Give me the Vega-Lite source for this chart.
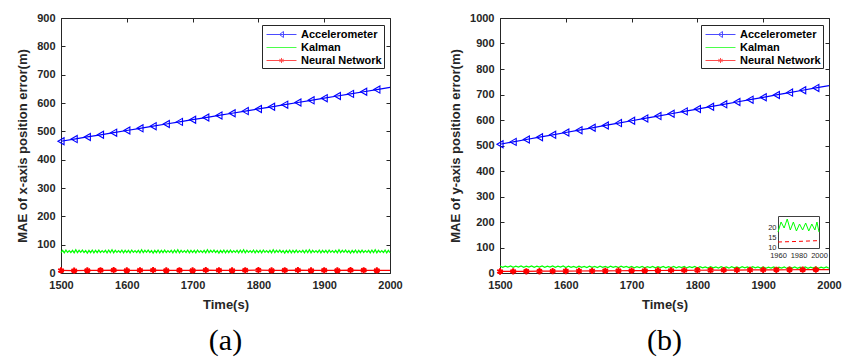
{
"$schema": "https://vega.github.io/schema/vega-lite/v6.json",
"background": "white",
"autosize": {"type": "pad"},
"padding": {"left": 16, "top": 11, "right": 0, "bottom": 0},
"datasets": {
"a": [
{"s":"Accelerometer","t":1500,"v":465,"m":1},{"s":"Accelerometer","t":1520,"v":472.6,"m":1},{"s":"Accelerometer","t":1540,"v":480.2,"m":1},{"s":"Accelerometer","t":1560,"v":487.8,"m":1},{"s":"Accelerometer","t":1580,"v":495.4,"m":1},{"s":"Accelerometer","t":1600,"v":503,"m":1},{"s":"Accelerometer","t":1620,"v":510.6,"m":1},{"s":"Accelerometer","t":1640,"v":518.2,"m":1},{"s":"Accelerometer","t":1660,"v":525.8,"m":1},{"s":"Accelerometer","t":1680,"v":533.4,"m":1},{"s":"Accelerometer","t":1700,"v":541,"m":1},{"s":"Accelerometer","t":1720,"v":548.6,"m":1},{"s":"Accelerometer","t":1740,"v":556.2,"m":1},{"s":"Accelerometer","t":1760,"v":563.8,"m":1},{"s":"Accelerometer","t":1780,"v":571.4,"m":1},{"s":"Accelerometer","t":1800,"v":579,"m":1},{"s":"Accelerometer","t":1820,"v":586.6,"m":1},{"s":"Accelerometer","t":1840,"v":594.2,"m":1},{"s":"Accelerometer","t":1860,"v":601.8,"m":1},{"s":"Accelerometer","t":1880,"v":609.4,"m":1},{"s":"Accelerometer","t":1900,"v":617,"m":1},{"s":"Accelerometer","t":1920,"v":624.6,"m":1},{"s":"Accelerometer","t":1940,"v":632.2,"m":1},{"s":"Accelerometer","t":1960,"v":639.8,"m":1},{"s":"Accelerometer","t":1980,"v":647.4,"m":1},{"s":"Accelerometer","t":2000,"v":655,"m":0},
{"s":"Neural Network","t":1500,"v":9,"m":1},{"s":"Neural Network","t":1520,"v":8.5,"m":1},{"s":"Neural Network","t":1540,"v":9,"m":1},{"s":"Neural Network","t":1560,"v":9.5,"m":1},{"s":"Neural Network","t":1580,"v":10,"m":1},{"s":"Neural Network","t":1600,"v":9,"m":1},{"s":"Neural Network","t":1620,"v":9.5,"m":1},{"s":"Neural Network","t":1640,"v":10,"m":1},{"s":"Neural Network","t":1660,"v":9,"m":1},{"s":"Neural Network","t":1680,"v":9.5,"m":1},{"s":"Neural Network","t":1700,"v":9,"m":1},{"s":"Neural Network","t":1720,"v":10,"m":1},{"s":"Neural Network","t":1740,"v":9.5,"m":1},{"s":"Neural Network","t":1760,"v":9,"m":1},{"s":"Neural Network","t":1780,"v":9.5,"m":1},{"s":"Neural Network","t":1800,"v":10,"m":1},{"s":"Neural Network","t":1820,"v":9,"m":1},{"s":"Neural Network","t":1840,"v":9.5,"m":1},{"s":"Neural Network","t":1860,"v":10,"m":1},{"s":"Neural Network","t":1880,"v":9,"m":1},{"s":"Neural Network","t":1900,"v":9.5,"m":1},{"s":"Neural Network","t":1920,"v":9,"m":1},{"s":"Neural Network","t":1940,"v":10,"m":1},{"s":"Neural Network","t":1960,"v":9.5,"m":1},{"s":"Neural Network","t":1980,"v":9,"m":1},{"s":"Neural Network","t":2000,"v":9.5,"m":0},
{"s":"Kalman","t":1500,"v":72},{"s":"Kalman","t":1502.5,"v":80},{"s":"Kalman","t":1505,"v":71},{"s":"Kalman","t":1507.5,"v":81},{"s":"Kalman","t":1510,"v":73},{"s":"Kalman","t":1512.5,"v":79},{"s":"Kalman","t":1515,"v":72},{"s":"Kalman","t":1517.5,"v":80},{"s":"Kalman","t":1520,"v":71},{"s":"Kalman","t":1522.5,"v":82},{"s":"Kalman","t":1525,"v":72},{"s":"Kalman","t":1527.5,"v":80},{"s":"Kalman","t":1530,"v":73},{"s":"Kalman","t":1532.5,"v":81},{"s":"Kalman","t":1535,"v":72},{"s":"Kalman","t":1537.5,"v":79},{"s":"Kalman","t":1540,"v":70},{"s":"Kalman","t":1542.5,"v":80},{"s":"Kalman","t":1545,"v":72},{"s":"Kalman","t":1547.5,"v":81},
{"s":"Kalman","t":1550,"v":71},{"s":"Kalman","t":1552.5,"v":80},{"s":"Kalman","t":1555,"v":72},{"s":"Kalman","t":1557.5,"v":81},{"s":"Kalman","t":1560,"v":72},{"s":"Kalman","t":1562.5,"v":79},{"s":"Kalman","t":1565,"v":73},{"s":"Kalman","t":1567.5,"v":80},{"s":"Kalman","t":1570,"v":71},{"s":"Kalman","t":1572.5,"v":81},{"s":"Kalman","t":1575,"v":72},{"s":"Kalman","t":1577.5,"v":82},{"s":"Kalman","t":1580,"v":71},{"s":"Kalman","t":1582.5,"v":80},{"s":"Kalman","t":1585,"v":73},{"s":"Kalman","t":1587.5,"v":79},{"s":"Kalman","t":1590,"v":72},{"s":"Kalman","t":1592.5,"v":81},{"s":"Kalman","t":1595,"v":71},{"s":"Kalman","t":1597.5,"v":80},
{"s":"Kalman","t":1600,"v":72},{"s":"Kalman","t":1602.5,"v":80},{"s":"Kalman","t":1605,"v":71},{"s":"Kalman","t":1607.5,"v":81},{"s":"Kalman","t":1610,"v":73},{"s":"Kalman","t":1612.5,"v":79},{"s":"Kalman","t":1615,"v":72},{"s":"Kalman","t":1617.5,"v":80},{"s":"Kalman","t":1620,"v":71},{"s":"Kalman","t":1622.5,"v":82},{"s":"Kalman","t":1625,"v":72},{"s":"Kalman","t":1627.5,"v":80},{"s":"Kalman","t":1630,"v":73},{"s":"Kalman","t":1632.5,"v":81},{"s":"Kalman","t":1635,"v":72},{"s":"Kalman","t":1637.5,"v":79},{"s":"Kalman","t":1640,"v":70},{"s":"Kalman","t":1642.5,"v":80},{"s":"Kalman","t":1645,"v":72},{"s":"Kalman","t":1647.5,"v":81},
{"s":"Kalman","t":1650,"v":71},{"s":"Kalman","t":1652.5,"v":80},{"s":"Kalman","t":1655,"v":72},{"s":"Kalman","t":1657.5,"v":81},{"s":"Kalman","t":1660,"v":72},{"s":"Kalman","t":1662.5,"v":79},{"s":"Kalman","t":1665,"v":73},{"s":"Kalman","t":1667.5,"v":80},{"s":"Kalman","t":1670,"v":71},{"s":"Kalman","t":1672.5,"v":81},{"s":"Kalman","t":1675,"v":72},{"s":"Kalman","t":1677.5,"v":82},{"s":"Kalman","t":1680,"v":71},{"s":"Kalman","t":1682.5,"v":80},{"s":"Kalman","t":1685,"v":73},{"s":"Kalman","t":1687.5,"v":79},{"s":"Kalman","t":1690,"v":72},{"s":"Kalman","t":1692.5,"v":81},{"s":"Kalman","t":1695,"v":71},{"s":"Kalman","t":1697.5,"v":80},
{"s":"Kalman","t":1700,"v":72},{"s":"Kalman","t":1702.5,"v":80},{"s":"Kalman","t":1705,"v":71},{"s":"Kalman","t":1707.5,"v":81},{"s":"Kalman","t":1710,"v":73},{"s":"Kalman","t":1712.5,"v":79},{"s":"Kalman","t":1715,"v":72},{"s":"Kalman","t":1717.5,"v":80},{"s":"Kalman","t":1720,"v":71},{"s":"Kalman","t":1722.5,"v":82},{"s":"Kalman","t":1725,"v":72},{"s":"Kalman","t":1727.5,"v":80},{"s":"Kalman","t":1730,"v":73},{"s":"Kalman","t":1732.5,"v":81},{"s":"Kalman","t":1735,"v":72},{"s":"Kalman","t":1737.5,"v":79},{"s":"Kalman","t":1740,"v":70},{"s":"Kalman","t":1742.5,"v":80},{"s":"Kalman","t":1745,"v":72},{"s":"Kalman","t":1747.5,"v":81},
{"s":"Kalman","t":1750,"v":71},{"s":"Kalman","t":1752.5,"v":80},{"s":"Kalman","t":1755,"v":72},{"s":"Kalman","t":1757.5,"v":81},{"s":"Kalman","t":1760,"v":72},{"s":"Kalman","t":1762.5,"v":79},{"s":"Kalman","t":1765,"v":73},{"s":"Kalman","t":1767.5,"v":80},{"s":"Kalman","t":1770,"v":71},{"s":"Kalman","t":1772.5,"v":81},{"s":"Kalman","t":1775,"v":72},{"s":"Kalman","t":1777.5,"v":82},{"s":"Kalman","t":1780,"v":71},{"s":"Kalman","t":1782.5,"v":80},{"s":"Kalman","t":1785,"v":73},{"s":"Kalman","t":1787.5,"v":79},{"s":"Kalman","t":1790,"v":72},{"s":"Kalman","t":1792.5,"v":81},{"s":"Kalman","t":1795,"v":71},{"s":"Kalman","t":1797.5,"v":80},
{"s":"Kalman","t":1800,"v":72},{"s":"Kalman","t":1802.5,"v":80},{"s":"Kalman","t":1805,"v":71},{"s":"Kalman","t":1807.5,"v":81},{"s":"Kalman","t":1810,"v":73},{"s":"Kalman","t":1812.5,"v":79},{"s":"Kalman","t":1815,"v":72},{"s":"Kalman","t":1817.5,"v":80},{"s":"Kalman","t":1820,"v":71},{"s":"Kalman","t":1822.5,"v":82},{"s":"Kalman","t":1825,"v":72},{"s":"Kalman","t":1827.5,"v":80},{"s":"Kalman","t":1830,"v":73},{"s":"Kalman","t":1832.5,"v":81},{"s":"Kalman","t":1835,"v":72},{"s":"Kalman","t":1837.5,"v":79},{"s":"Kalman","t":1840,"v":70},{"s":"Kalman","t":1842.5,"v":80},{"s":"Kalman","t":1845,"v":72},{"s":"Kalman","t":1847.5,"v":81},
{"s":"Kalman","t":1850,"v":71},{"s":"Kalman","t":1852.5,"v":80},{"s":"Kalman","t":1855,"v":72},{"s":"Kalman","t":1857.5,"v":81},{"s":"Kalman","t":1860,"v":72},{"s":"Kalman","t":1862.5,"v":79},{"s":"Kalman","t":1865,"v":73},{"s":"Kalman","t":1867.5,"v":80},{"s":"Kalman","t":1870,"v":71},{"s":"Kalman","t":1872.5,"v":81},{"s":"Kalman","t":1875,"v":72},{"s":"Kalman","t":1877.5,"v":82},{"s":"Kalman","t":1880,"v":71},{"s":"Kalman","t":1882.5,"v":80},{"s":"Kalman","t":1885,"v":73},{"s":"Kalman","t":1887.5,"v":79},{"s":"Kalman","t":1890,"v":72},{"s":"Kalman","t":1892.5,"v":81},{"s":"Kalman","t":1895,"v":71},{"s":"Kalman","t":1897.5,"v":80},
{"s":"Kalman","t":1900,"v":72},{"s":"Kalman","t":1902.5,"v":80},{"s":"Kalman","t":1905,"v":71},{"s":"Kalman","t":1907.5,"v":81},{"s":"Kalman","t":1910,"v":73},{"s":"Kalman","t":1912.5,"v":79},{"s":"Kalman","t":1915,"v":72},{"s":"Kalman","t":1917.5,"v":80},{"s":"Kalman","t":1920,"v":71},{"s":"Kalman","t":1922.5,"v":82},{"s":"Kalman","t":1925,"v":72},{"s":"Kalman","t":1927.5,"v":80},{"s":"Kalman","t":1930,"v":73},{"s":"Kalman","t":1932.5,"v":81},{"s":"Kalman","t":1935,"v":72},{"s":"Kalman","t":1937.5,"v":79},{"s":"Kalman","t":1940,"v":70},{"s":"Kalman","t":1942.5,"v":80},{"s":"Kalman","t":1945,"v":72},{"s":"Kalman","t":1947.5,"v":81},
{"s":"Kalman","t":1950,"v":71},{"s":"Kalman","t":1952.5,"v":80},{"s":"Kalman","t":1955,"v":72},{"s":"Kalman","t":1957.5,"v":81},{"s":"Kalman","t":1960,"v":72},{"s":"Kalman","t":1962.5,"v":79},{"s":"Kalman","t":1965,"v":73},{"s":"Kalman","t":1967.5,"v":80},{"s":"Kalman","t":1970,"v":71},{"s":"Kalman","t":1972.5,"v":81},{"s":"Kalman","t":1975,"v":72},{"s":"Kalman","t":1977.5,"v":82},{"s":"Kalman","t":1980,"v":71},{"s":"Kalman","t":1982.5,"v":80},{"s":"Kalman","t":1985,"v":73},{"s":"Kalman","t":1987.5,"v":79},{"s":"Kalman","t":1990,"v":72},{"s":"Kalman","t":1992.5,"v":81},{"s":"Kalman","t":1995,"v":71},{"s":"Kalman","t":1997.5,"v":80},{"s":"Kalman","t":2000,"v":72}
],
"b": [
{"s":"Accelerometer","t":1500,"v":505,"m":1},{"s":"Accelerometer","t":1520,"v":514.2,"m":1},{"s":"Accelerometer","t":1540,"v":523.4,"m":1},{"s":"Accelerometer","t":1560,"v":532.6,"m":1},{"s":"Accelerometer","t":1580,"v":541.8,"m":1},{"s":"Accelerometer","t":1600,"v":551,"m":1},{"s":"Accelerometer","t":1620,"v":560.2,"m":1},{"s":"Accelerometer","t":1640,"v":569.4,"m":1},{"s":"Accelerometer","t":1660,"v":578.6,"m":1},{"s":"Accelerometer","t":1680,"v":587.8,"m":1},{"s":"Accelerometer","t":1700,"v":597,"m":1},{"s":"Accelerometer","t":1720,"v":606.2,"m":1},{"s":"Accelerometer","t":1740,"v":615.4,"m":1},{"s":"Accelerometer","t":1760,"v":624.6,"m":1},{"s":"Accelerometer","t":1780,"v":633.8,"m":1},{"s":"Accelerometer","t":1800,"v":643,"m":1},{"s":"Accelerometer","t":1820,"v":652.2,"m":1},{"s":"Accelerometer","t":1840,"v":661.4,"m":1},{"s":"Accelerometer","t":1860,"v":670.6,"m":1},{"s":"Accelerometer","t":1880,"v":679.8,"m":1},{"s":"Accelerometer","t":1900,"v":689,"m":1},{"s":"Accelerometer","t":1920,"v":698.2,"m":1},{"s":"Accelerometer","t":1940,"v":707.4,"m":1},{"s":"Accelerometer","t":1960,"v":716.6,"m":1},{"s":"Accelerometer","t":1980,"v":725.8,"m":1},{"s":"Accelerometer","t":2000,"v":735,"m":0},
{"s":"Neural Network","t":1500,"v":6,"m":1},{"s":"Neural Network","t":1520,"v":6.4,"m":1},{"s":"Neural Network","t":1540,"v":6.6,"m":1},{"s":"Neural Network","t":1560,"v":7,"m":1},{"s":"Neural Network","t":1580,"v":7.3,"m":1},{"s":"Neural Network","t":1600,"v":7.6,"m":1},{"s":"Neural Network","t":1620,"v":7.9,"m":1},{"s":"Neural Network","t":1640,"v":8.2,"m":1},{"s":"Neural Network","t":1660,"v":8.6,"m":1},{"s":"Neural Network","t":1680,"v":8.9,"m":1},{"s":"Neural Network","t":1700,"v":9.2,"m":1},{"s":"Neural Network","t":1720,"v":9.5,"m":1},{"s":"Neural Network","t":1740,"v":9.8,"m":1},{"s":"Neural Network","t":1760,"v":10.1,"m":1},{"s":"Neural Network","t":1780,"v":10.4,"m":1},{"s":"Neural Network","t":1800,"v":10.8,"m":1},{"s":"Neural Network","t":1820,"v":11,"m":1},{"s":"Neural Network","t":1840,"v":11.3,"m":1},{"s":"Neural Network","t":1860,"v":11.6,"m":1},{"s":"Neural Network","t":1880,"v":11.9,"m":1},{"s":"Neural Network","t":1900,"v":12.2,"m":1},{"s":"Neural Network","t":1920,"v":12.5,"m":1},{"s":"Neural Network","t":1940,"v":12.7,"m":1},{"s":"Neural Network","t":1960,"v":13,"m":1},{"s":"Neural Network","t":1980,"v":13.3,"m":1},{"s":"Neural Network","t":2000,"v":13.6,"m":0},
{"s":"Kalman","t":1500,"v":27.5},{"s":"Kalman","t":1504,"v":22.5},{"s":"Kalman","t":1508,"v":27},{"s":"Kalman","t":1512,"v":23},{"s":"Kalman","t":1516,"v":28},{"s":"Kalman","t":1520,"v":22.5},{"s":"Kalman","t":1524,"v":27},{"s":"Kalman","t":1528,"v":23},{"s":"Kalman","t":1532,"v":27.5},{"s":"Kalman","t":1536,"v":22},{"s":"Kalman","t":1540,"v":27},{"s":"Kalman","t":1544,"v":23},{"s":"Kalman","t":1548,"v":28},{"s":"Kalman","t":1552,"v":22.5},{"s":"Kalman","t":1556,"v":27},{"s":"Kalman","t":1560,"v":23},{"s":"Kalman","t":1564,"v":27.5},{"s":"Kalman","t":1568,"v":22.5},{"s":"Kalman","t":1572,"v":27},{"s":"Kalman","t":1576,"v":23},{"s":"Kalman","t":1580,"v":28},{"s":"Kalman","t":1584,"v":22},{"s":"Kalman","t":1588,"v":27},{"s":"Kalman","t":1592,"v":23},{"s":"Kalman","t":1596,"v":27.5},
{"s":"Kalman","t":1600,"v":21.5},{"s":"Kalman","t":1604,"v":26.5},{"s":"Kalman","t":1608,"v":22},{"s":"Kalman","t":1612,"v":26},{"s":"Kalman","t":1616,"v":21.5},{"s":"Kalman","t":1620,"v":27},{"s":"Kalman","t":1624,"v":22},{"s":"Kalman","t":1628,"v":26},{"s":"Kalman","t":1632,"v":21.5},{"s":"Kalman","t":1636,"v":26.5},{"s":"Kalman","t":1640,"v":22},{"s":"Kalman","t":1644,"v":26},{"s":"Kalman","t":1648,"v":21},{"s":"Kalman","t":1652,"v":26.5},{"s":"Kalman","t":1656,"v":22},{"s":"Kalman","t":1660,"v":26},{"s":"Kalman","t":1664,"v":21.5},{"s":"Kalman","t":1668,"v":27},{"s":"Kalman","t":1672,"v":22},{"s":"Kalman","t":1676,"v":26},{"s":"Kalman","t":1680,"v":21.5},{"s":"Kalman","t":1684,"v":26.5},{"s":"Kalman","t":1688,"v":22},{"s":"Kalman","t":1692,"v":26},{"s":"Kalman","t":1696,"v":21.5},
{"s":"Kalman","t":1700,"v":25.5},{"s":"Kalman","t":1704,"v":20.5},{"s":"Kalman","t":1708,"v":25},{"s":"Kalman","t":1712,"v":21},{"s":"Kalman","t":1716,"v":26},{"s":"Kalman","t":1720,"v":20.5},{"s":"Kalman","t":1724,"v":25},{"s":"Kalman","t":1728,"v":21},{"s":"Kalman","t":1732,"v":25.5},{"s":"Kalman","t":1736,"v":20},{"s":"Kalman","t":1740,"v":25},{"s":"Kalman","t":1744,"v":21},{"s":"Kalman","t":1748,"v":26},{"s":"Kalman","t":1752,"v":20.5},{"s":"Kalman","t":1756,"v":25},{"s":"Kalman","t":1760,"v":21},{"s":"Kalman","t":1764,"v":25.5},{"s":"Kalman","t":1768,"v":20.5},{"s":"Kalman","t":1772,"v":25},{"s":"Kalman","t":1776,"v":21},{"s":"Kalman","t":1780,"v":26},{"s":"Kalman","t":1784,"v":20},{"s":"Kalman","t":1788,"v":25},{"s":"Kalman","t":1792,"v":21},{"s":"Kalman","t":1796,"v":25.5},
{"s":"Kalman","t":1800,"v":19.5},{"s":"Kalman","t":1804,"v":24.5},{"s":"Kalman","t":1808,"v":20},{"s":"Kalman","t":1812,"v":24},{"s":"Kalman","t":1816,"v":19.5},{"s":"Kalman","t":1820,"v":25},{"s":"Kalman","t":1824,"v":20},{"s":"Kalman","t":1828,"v":24},{"s":"Kalman","t":1832,"v":19.5},{"s":"Kalman","t":1836,"v":24.5},{"s":"Kalman","t":1840,"v":20},{"s":"Kalman","t":1844,"v":24},{"s":"Kalman","t":1848,"v":19},{"s":"Kalman","t":1852,"v":24.5},{"s":"Kalman","t":1856,"v":20},{"s":"Kalman","t":1860,"v":24},{"s":"Kalman","t":1864,"v":19.5},{"s":"Kalman","t":1868,"v":25},{"s":"Kalman","t":1872,"v":20},{"s":"Kalman","t":1876,"v":24},{"s":"Kalman","t":1880,"v":19.5},{"s":"Kalman","t":1884,"v":24.5},{"s":"Kalman","t":1888,"v":20},{"s":"Kalman","t":1892,"v":24},{"s":"Kalman","t":1896,"v":19.5},
{"s":"Kalman","t":1900,"v":23.5},{"s":"Kalman","t":1904,"v":18.5},{"s":"Kalman","t":1908,"v":23},{"s":"Kalman","t":1912,"v":19},{"s":"Kalman","t":1916,"v":24},{"s":"Kalman","t":1920,"v":18.5},{"s":"Kalman","t":1924,"v":23},{"s":"Kalman","t":1928,"v":19},{"s":"Kalman","t":1932,"v":23.5},{"s":"Kalman","t":1936,"v":18},{"s":"Kalman","t":1940,"v":23},{"s":"Kalman","t":1944,"v":19},{"s":"Kalman","t":1948,"v":24},{"s":"Kalman","t":1952,"v":18.5},{"s":"Kalman","t":1956,"v":23},{"s":"Kalman","t":1960,"v":19},{"s":"Kalman","t":1964,"v":23.5},{"s":"Kalman","t":1968,"v":18.5},{"s":"Kalman","t":1972,"v":23},{"s":"Kalman","t":1976,"v":19},{"s":"Kalman","t":1980,"v":24},{"s":"Kalman","t":1984,"v":18},{"s":"Kalman","t":1988,"v":23},{"s":"Kalman","t":1992,"v":19},{"s":"Kalman","t":1996,"v":23.5},{"s":"Kalman","t":2000,"v":18.5}
],
"ins": [
{"s":"Kalman","t":1960,"v":18},{"s":"Kalman","t":1963,"v":23},{"s":"Kalman","t":1966,"v":20},{"s":"Kalman","t":1969,"v":24.5},{"s":"Kalman","t":1972,"v":19},{"s":"Kalman","t":1975,"v":23},{"s":"Kalman","t":1978,"v":18.5},{"s":"Kalman","t":1981,"v":22},{"s":"Kalman","t":1984,"v":19},{"s":"Kalman","t":1987,"v":22.5},{"s":"Kalman","t":1990,"v":18.5},{"s":"Kalman","t":1993,"v":22},{"s":"Kalman","t":1996,"v":19},{"s":"Kalman","t":1998,"v":23},{"s":"Kalman","t":2000,"v":18},
{"s":"Neural Network","t":1960,"v":13},{"s":"Neural Network","t":1980,"v":13.3},{"s":"Neural Network","t":2000,"v":13.7}
]
},
"hconcat": [
{
"width": 329, "height": 255,
"data": {"name": "a"},
"title": {"text": "(a)", "orient": "bottom", "anchor": "middle", "font": "Liberation Serif", "fontSize": 30, "fontWeight": "normal", "color": "black", "offset": 15},
"layer": [
{"mark": {"type": "line", "strokeWidth": 1.2},
 "encoding": {
  "x": {"field": "t", "type": "quantitative", "scale": {"domain": [1500, 2000], "nice": false, "zero": false}, "axis": {"orient": "bottom", "values": [1500,1600,1700,1800,1900,2000], "format": "d", "title": "Time(s)", "titlePadding": 8}},
  "y": {"field": "v", "type": "quantitative", "scale": {"domain": [0, 900], "nice": false}, "axis": {"orient": "left", "values": [0,100,200,300,400,500,600,700,800,900], "format": "d", "title": "MAE of x-axis position error(m)", "titlePadding": 7}},
  "color": {"field": "s", "type": "nominal", "scale": {"domain": ["Accelerometer","Kalman","Neural Network"], "range": ["#0000ff","#00ff00","#ff0000"]},
   "legend": {"orient": "none", "legendX": 201, "legendY": 7, "title": null, "symbolSize": 196, "symbolStrokeWidth": 1, "labelOffset": 22, "padding": 2, "rowPadding": 0, "labelFont": "Liberation Sans", "labelFontWeight": "bold", "labelFontSize": 11, "labelColor": "black", "strokeColor": "#262626", "fillColor": "white"}}
 }},
{"transform": [{"filter": "datum.m === 1 && datum.s === 'Accelerometer'"}],
 "mark": {"type": "point", "filled": false, "size": 50, "strokeWidth": 1.1, "opacity": 1, "color": "#0000ff", "shape": "triangle-left"},
 "encoding": {
  "x": {"field": "t", "type": "quantitative", "axis": {"orient": "top", "values": [1500,1600,1700,1800,1900,2000], "labels": false, "title": null}},
  "y": {"field": "v", "type": "quantitative", "axis": {"orient": "right", "values": [0,100,200,300,400,500,600,700,800,900], "labels": false, "title": null}}
 }},
{"transform": [{"filter": "datum.m === 1 && datum.s === 'Neural Network'"}],
 "mark": {"type": "point", "filled": false, "size": 40, "strokeWidth": 2, "opacity": 1, "color": "#ff0000", "shape": "M0,-1V1M-0.87,-0.5L0.87,0.5M-0.87,0.5L0.87,-0.5"},
 "encoding": {
  "x": {"field": "t", "type": "quantitative", "axis": null},
  "y": {"field": "v", "type": "quantitative", "axis": null}
 }},
{"transform": [{"filter": "datum.m === 2"}],
 "mark": {"type": "point", "filled": false},
 "encoding": {
  "x": {"field": "t", "type": "quantitative", "axis": null},
  "y": {"field": "v", "type": "quantitative", "axis": null},
  "color": {"field": "s", "type": "nominal"},
  "shape": {"field": "s", "type": "nominal", "scale": {"domain": ["Accelerometer","Kalman","Neural Network"], "range": ["M-0.71,0H3.57M1.71,-0.43L1.14,0L1.71,0.43Z", "M-0.71,0H3.57", "M-0.71,0H3.57M1.43,-0.36V0.36M1.12,-0.18L1.74,0.18M1.12,0.18L1.74,-0.18"]},
   "legend": {"orient": "none", "legendX": 201, "legendY": 7, "title": null, "symbolSize": 196, "symbolStrokeWidth": 1, "labelOffset": 22, "padding": 2, "rowPadding": 0, "labelFont": "Liberation Sans", "labelFontWeight": "bold", "labelFontSize": 11, "labelColor": "black", "strokeColor": "#262626", "fillColor": "white"}}
 }}
],
"resolve": {"axis": {"x": "independent", "y": "independent"}}
},
{
"width": 329, "height": 255,
"title": {"text": "(b)", "orient": "bottom", "anchor": "middle", "font": "Liberation Serif", "fontSize": 30, "fontWeight": "normal", "color": "black", "offset": 15},
"layer": [
{
"data": {"name": "b"},
"layer": [
{"mark": {"type": "line", "strokeWidth": 1.2},
 "encoding": {
  "x": {"field": "t", "type": "quantitative", "scale": {"domain": [1500, 2000], "nice": false, "zero": false}, "axis": {"orient": "bottom", "values": [1500,1600,1700,1800,1900,2000], "format": "d", "title": "Time(s)", "titlePadding": 8}},
  "y": {"field": "v", "type": "quantitative", "scale": {"domain": [0, 1000], "nice": false}, "axis": {"orient": "left", "values": [0,100,200,300,400,500,600,700,800,900,1000], "format": "d", "title": "MAE of y-axis position error(m)", "titlePadding": 7}},
  "color": {"field": "s", "type": "nominal", "scale": {"domain": ["Accelerometer","Kalman","Neural Network"], "range": ["#0000ff","#00ff00","#ff0000"]},
   "legend": {"orient": "none", "legendX": 201, "legendY": 7, "title": null, "symbolSize": 196, "symbolStrokeWidth": 1, "labelOffset": 22, "padding": 2, "rowPadding": 0, "labelFont": "Liberation Sans", "labelFontWeight": "bold", "labelFontSize": 11, "labelColor": "black", "strokeColor": "#262626", "fillColor": "white"}}
 }},
{"transform": [{"filter": "datum.m === 1 && datum.s === 'Accelerometer'"}],
 "mark": {"type": "point", "filled": false, "size": 50, "strokeWidth": 1.1, "opacity": 1, "color": "#0000ff", "shape": "triangle-left"},
 "encoding": {
  "x": {"field": "t", "type": "quantitative", "axis": {"orient": "top", "values": [1500,1600,1700,1800,1900,2000], "labels": false, "title": null}},
  "y": {"field": "v", "type": "quantitative", "axis": {"orient": "right", "values": [0,100,200,300,400,500,600,700,800,900,1000], "labels": false, "title": null}}
 }},
{"transform": [{"filter": "datum.m === 1 && datum.s === 'Neural Network'"}],
 "mark": {"type": "point", "filled": false, "size": 40, "strokeWidth": 2, "opacity": 1, "color": "#ff0000", "shape": "M0,-1V1M-0.87,-0.5L0.87,0.5M-0.87,0.5L0.87,-0.5"},
 "encoding": {
  "x": {"field": "t", "type": "quantitative", "axis": null},
  "y": {"field": "v", "type": "quantitative", "axis": null}
 }},
{"transform": [{"filter": "datum.m === 2"}],
 "mark": {"type": "point", "filled": false},
 "encoding": {
  "x": {"field": "t", "type": "quantitative", "axis": null},
  "y": {"field": "v", "type": "quantitative", "axis": null},
  "color": {"field": "s", "type": "nominal"},
  "shape": {"field": "s", "type": "nominal", "scale": {"domain": ["Accelerometer","Kalman","Neural Network"], "range": ["M-0.71,0H3.57M1.71,-0.43L1.14,0L1.71,0.43Z", "M-0.71,0H3.57", "M-0.71,0H3.57M1.43,-0.36V0.36M1.12,-0.18L1.74,0.18M1.12,0.18L1.74,-0.18"]},
   "legend": {"orient": "none", "legendX": 201, "legendY": 7, "title": null, "symbolSize": 196, "symbolStrokeWidth": 1, "labelOffset": 22, "padding": 2, "rowPadding": 0, "labelFont": "Liberation Sans", "labelFontWeight": "bold", "labelFontSize": 11, "labelColor": "black", "strokeColor": "#262626", "fillColor": "white"}}
 }}
],
"resolve": {"axis": {"x": "independent", "y": "independent"}}
},
{
"data": {"name": "ins"},
"layer": [
 {"transform": [{"filter": "datum.s === 'Kalman'"}],
  "mark": {"type": "line", "color": "#00ff00", "strokeWidth": 1},
  "encoding": {
   "x": {"field": "t", "type": "quantitative", "scale": {"domain": [1960, 2000], "range": [278, 319], "nice": false, "zero": false}, "axis": {"orient": "bottom", "offset": -25, "values": [1960,1980,2000], "format": "d", "title": null, "ticks": false, "domain": true, "domainColor": "#404040", "labelFontWeight": "normal", "labelFontSize": 7.5, "labelPadding": 3}},
   "y": {"field": "v", "type": "quantitative", "scale": {"domain": [10, 26], "range": [230, 198], "nice": false, "zero": false}, "axis": {"orient": "left", "offset": -278, "values": [10,15,20], "format": "d", "title": null, "ticks": false, "domain": true, "domainColor": "#404040", "labelFontWeight": "normal", "labelFontSize": 7.5, "labelPadding": 2, "labelOffset": -1}}
  }},
 {"transform": [{"filter": "datum.s === 'Neural Network'"}],
  "mark": {"type": "line", "color": "#ff0000", "strokeWidth": 1, "strokeDash": [4, 3]},
  "encoding": {
   "x": {"field": "t", "type": "quantitative", "axis": {"orient": "top", "offset": -198, "labels": false, "ticks": false, "domain": true, "domainColor": "#404040", "title": null}},
   "y": {"field": "v", "type": "quantitative", "axis": {"orient": "right", "offset": -10, "labels": false, "ticks": false, "domain": true, "domainColor": "#404040", "title": null}}
  }}
],
"resolve": {"axis": {"x": "independent", "y": "independent"}}
}
],
"resolve": {"scale": {"x": "independent", "y": "independent"}, "axis": {"x": "independent", "y": "independent"}}
}
],
"spacing": 110,
"bounds": "flush",
"resolve": {"scale": {"color": "independent", "shape": "independent", "x": "independent", "y": "independent"}, "legend": {"color": "independent", "shape": "independent"}},
"config": {
 "view": {"stroke": "#262626", "strokeWidth": 1},
 "axis": {"labelFont": "Liberation Sans", "labelFontWeight": "bold", "labelFontSize": 11, "labelColor": "#262626", "titleFont": "Liberation Sans", "titleFontWeight": "bold", "titleFontSize": 13, "titleColor": "#262626", "grid": false, "domain": false, "tickColor": "#262626", "tickSize": -4, "labelPadding": 10, "labelFlush": false, "labelOverlap": false}
}
}
